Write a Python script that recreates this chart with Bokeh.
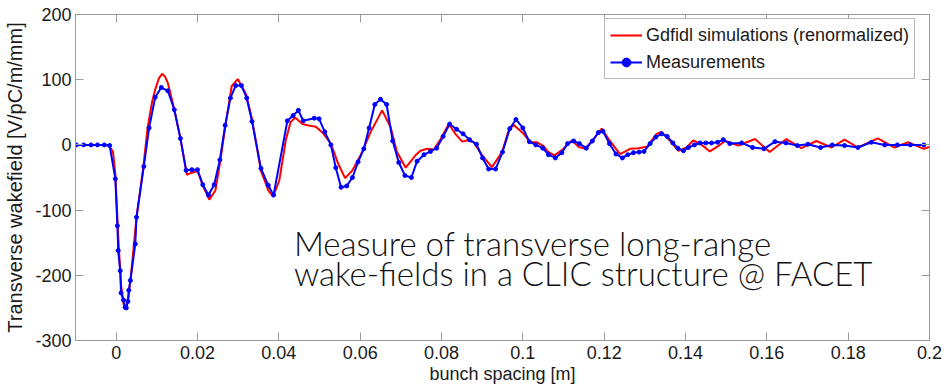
from bokeh.plotting import figure
from bokeh.models import LinearAxis, FixedTicker, Label, Legend, LegendItem, Range1d
from bokeh.embed import file_html
from bokeh.resources import INLINE

# ---------------- data ----------------
x_ticks = [0, 0.02, 0.04, 0.06, 0.08, 0.1, 0.12, 0.14, 0.16, 0.18, 0.2]
x_tick_labels = ["0", "0.02", "0.04", "0.06", "0.08", "0.1", "0.12", "0.14", "0.16", "0.18", "0.2"]
y_ticks = [-300, -200, -100, 0, 100, 200]
y_tick_labels = ["-300", "-200", "-100", "0", "100", "200"]

# Gdfidl simulation (renormalized)
sim_x = [-0.010, -0.002, -0.0008, -0.0002, 0.0005, 0.0012, 0.0018, 0.0023, 0.0030, 0.0038,
         0.0050, 0.0067, 0.0077, 0.0088, 0.0096, 0.0105, 0.0113, 0.0120, 0.0127, 0.0135,
         0.0143, 0.0158, 0.0174, 0.0184, 0.0200, 0.0214, 0.0229, 0.0244, 0.0255, 0.0268,
         0.0284, 0.0299, 0.0319, 0.0334, 0.0356, 0.0375, 0.0386, 0.0401, 0.0417, 0.0429,
         0.0440, 0.0458, 0.0470, 0.0491, 0.0507, 0.0528, 0.0546, 0.0563, 0.0581, 0.0601,
         0.0626, 0.0654, 0.0675, 0.0690, 0.0712, 0.0736, 0.0748, 0.0765, 0.0781, 0.0798,
         0.0818, 0.0834, 0.0851, 0.0863, 0.0879, 0.0900, 0.0924, 0.0949, 0.0965, 0.0977,
         0.1002, 0.1018, 0.1035, 0.1051, 0.1063, 0.1078, 0.1096, 0.1121, 0.1137, 0.1153,
         0.1174, 0.1194, 0.1211, 0.1239, 0.1264, 0.1284, 0.1305, 0.1329, 0.1341, 0.1358,
         0.1383, 0.1403, 0.1419, 0.1436, 0.1460, 0.1480, 0.1497, 0.1530, 0.1571, 0.1607,
         0.1648, 0.1685, 0.1722, 0.1759, 0.1791, 0.1824, 0.1873, 0.1914, 0.1947, 0.1986,
         0.2000]
sim_y = [0, 0, -10, -45, -140, -215, -243, -252, -235, -190,
         -111, -33, 25, 65, 85, 102, 109, 105, 95, 75,
         54, 10, -46, -43, -40, -64, -84, -70, -29, 27,
         90, 101, 78, 40, -40, -71, -79, -55, 7, 35,
         42, 32, 30, 28, 19, 2, -29, -51, -39, -16,
         20, 53, 27, -10, -35, -16, -9, -6, -7, 9,
         32, 17, 5, 7, 4, -16, -34, -11, 22, 31,
         17, 4, 4, -2, -11, -16, -8, 7, -3, -6,
         9, 25, 9, -14, -6, -5, -3, 17, 20, 9,
         -9, -4, 7, 2, -10, -2, 6, -1, 9, -11,
         9, -5, 6, -4, 8, -4, 10, -4, 4, -6,
         -3]

# Measurements
meas_x = [-0.0098, -0.0080, -0.0062, -0.0046, -0.0029, -0.0016, -0.0002, 0.0003, 0.0005, 0.0010,
          0.0012, 0.0018, 0.0022, 0.0025, 0.0029, 0.0031, 0.0035, 0.0047, 0.0050, 0.0068,
          0.0081, 0.0096, 0.0111, 0.0127, 0.0143, 0.0158, 0.0172, 0.0186, 0.0200, 0.0213,
          0.0227, 0.0241, 0.0255, 0.0268, 0.0281, 0.0294, 0.0308, 0.0321, 0.0334, 0.0356,
          0.0374, 0.0387, 0.0421, 0.0435, 0.0448, 0.0460, 0.0487, 0.0499, 0.0513, 0.0528,
          0.0540, 0.0553, 0.0567, 0.0581, 0.0595, 0.0609, 0.0622, 0.0636, 0.0650, 0.0665,
          0.0680, 0.0695, 0.0710, 0.0726, 0.0740, 0.0757, 0.0773, 0.0788, 0.0804, 0.0820,
          0.0837, 0.0853, 0.0869, 0.0886, 0.0901, 0.0916, 0.0933, 0.0950, 0.0968, 0.0983,
          0.1000, 0.1016, 0.1032, 0.1049, 0.1063, 0.1080, 0.1096, 0.1110, 0.1125, 0.1139,
          0.1156, 0.1171, 0.1186, 0.1197, 0.1213, 0.1229, 0.1245, 0.1258, 0.1272, 0.1286,
          0.1298, 0.1313, 0.1327, 0.1341, 0.1355, 0.1369, 0.1381, 0.1395, 0.1407, 0.1422,
          0.1436, 0.1450, 0.1464, 0.1479, 0.1493, 0.1509, 0.1538, 0.1565, 0.1593, 0.1620,
          0.1647, 0.1675, 0.1701, 0.1732, 0.1761, 0.1791, 0.1824, 0.1857, 0.1890, 0.1921,
          0.1953, 0.1986]
meas_y = [0, 0, 0, 0, 0, -1, -52, -124, -162, -193,
          -227, -238, -249, -250, -240, -223, -208, -152, -111, -33,
          26, 73, 88, 83, 54, 10, -39, -38, -38, -61,
          -77, -61, -23, 30, 72, 91, 91, 72, 36, -36,
          -62, -77, 37, 45, 53, 37, 41, 40, 20, 0,
          -35, -65, -63, -50, -26, -6, 26, 62, 70, 62,
          6, -27, -47, -50, -25, -15, -10, -5, 13, 32,
          24, 17, 8, 1, -20, -37, -37, -11, 25, 39,
          26, 5, 0, -5, -15, -20, -12, 2, 6, 2,
          -5, 6, 19, 21, 2, -14, -20, -15, -12, -11,
          -10, 2, 12, 17, 13, 3, -5, -9, -4, 0,
          3, 3, 3, 4, 8, 2, 3, -4, -6, 5,
          3, -1, 1, -4, 0, -1, -4, 4, 0, 0,
          0, 0]

annotation_lines = ["Measure of transverse long-range", "wake-fields in a CLIC structure @ FACET"]
annotation_x = 0.0437
annotation_y = [-151, -197]

# ---------------- figure ----------------
AXIS_COLOR = "#9a9a9a"
TEXT_COLOR = "#1a1a1a"
TICK_FONT = "Liberation Sans"

p = figure(width=946, height=389, output_backend="svg", toolbar_location=None,
           x_range=Range1d(-0.01, 0.2), y_range=Range1d(-300, 200),
           min_border_left=75, min_border_right=17, min_border_top=14, min_border_bottom=49)
p.background_fill_color = "white"
p.border_fill_color = "white"
p.outline_line_color = None
p.xgrid.visible = False
p.ygrid.visible = False

xt = FixedTicker(ticks=x_ticks)
yt = FixedTicker(ticks=y_ticks)


def style_axis(ax, ticker, overrides, show_labels):
    ax.ticker = ticker
    ax.axis_line_color = AXIS_COLOR
    ax.axis_line_width = 1
    ax.major_tick_line_color = AXIS_COLOR
    ax.major_tick_in = 8
    ax.major_tick_out = 0
    ax.minor_tick_line_color = None
    if show_labels:
        ax.major_label_overrides = overrides
        ax.major_label_text_font = TICK_FONT
        ax.major_label_text_font_size = "18px"
        ax.major_label_text_color = TEXT_COLOR
    else:
        ax.major_label_text_color = None
        ax.major_label_text_font_size = "1px"
        ax.major_label_standoff = 0


xa = p.xaxis[0]
ya = p.yaxis[0]
style_axis(xa, xt, {t: l for t, l in zip(x_ticks, x_tick_labels)}, True)
style_axis(ya, yt, {t: l for t, l in zip(y_ticks, y_tick_labels)}, True)
xa.major_label_standoff = 5
ya.major_label_standoff = 4

xa.axis_label = "bunch spacing [m]"
xa.axis_label_text_font = TICK_FONT
xa.axis_label_text_font_size = "18px"
xa.axis_label_text_font_style = "normal"
xa.axis_label_text_color = TEXT_COLOR
xa.axis_label_standoff = 2

ya.axis_label = "Transverse wakefield [V/pC/m/mm]"
ya.axis_label_text_font = TICK_FONT
ya.axis_label_text_font_size = "20px"
ya.axis_label_text_font_style = "normal"
ya.axis_label_text_color = TEXT_COLOR
ya.axis_label_standoff = 6

top_ax = LinearAxis()
style_axis(top_ax, xt, None, False)
p.add_layout(top_ax, "above")
right_ax = LinearAxis()
style_axis(right_ax, yt, None, False)
p.add_layout(right_ax, "right")

# ---------------- data glyphs ----------------
r_sim = p.line(sim_x, sim_y, line_color="#ff0000", line_width=2)
r_meas = p.line(meas_x, meas_y, line_color="#0000ff", line_width=2)
r_meas_pts = p.scatter(meas_x, meas_y, marker="circle", size=4,
                       fill_color="#0000ff", line_color="#0000ff")

legend = Legend(items=[
    LegendItem(label="Gdfidl simulations (renormalized)", renderers=[r_sim]),
    LegendItem(label="Measurements", renderers=[r_meas, r_meas_pts]),
], location=(529, 261))
legend.label_text_font = TICK_FONT
legend.label_text_font_size = "18px"
legend.label_text_color = TEXT_COLOR
legend.glyph_width = 32
legend.glyph_height = 22
legend.label_height = 22
legend.spacing = 5
legend.padding = 5
legend.margin = 0
legend.label_standoff = 4
legend.border_line_color = "#707070"
legend.border_line_width = 1
legend.background_fill_color = "white"
legend.background_fill_alpha = 1
p.add_layout(legend)

for txt, yy in zip(annotation_lines, annotation_y):
    p.add_layout(Label(x=annotation_x, y=yy, text=txt,
                       text_font="'Lato Light', 'Lato'",
                       text_font_size="33px", text_color="#111111",
                       text_baseline="alphabetic", text_align="left"))

open("out.html", "w").write(file_html(p, INLINE))
